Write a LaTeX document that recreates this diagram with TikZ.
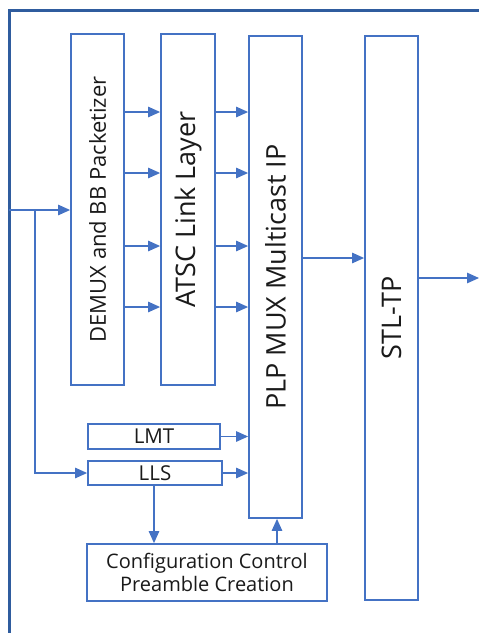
\documentclass[tikz,border=0pt]{standalone}
\usepackage{fontspec}
\setmainfont{Open Sans}
\usetikzlibrary{arrows.meta}
\definecolor{lblue}{HTML}{4472C4}
\definecolor{fblue}{HTML}{2F5C9E}
\definecolor{txt}{HTML}{1A1A1A}
\tikzset{
  box/.style={draw=lblue, line width=1.8pt, fill=white, inner sep=0pt, text=txt, align=center},
  arr/.style={draw=lblue, line width=1.2pt, -{Triangle[length=12pt,width=10.5pt]}},
  frameline/.style={draw=fblue, line width=3pt},
  big/.style={font=\fontsize{27}{31}\selectfont},
  mid/.style={font=\fontsize{22}{26}\selectfont},
  small/.style={font=\fontsize{20.5}{24}\selectfont},
  conf/.style={font=\fontsize{20}{22.5}\selectfont},
}
\begin{document}
\begin{tikzpicture}[x=1pt,y=-1pt]
\useasboundingbox[fill=white] (0,0) rectangle (479,633);
\draw[frameline] (9,633) -- (9,10) -- (479,10);

\node[box, minimum width=53pt, minimum height=351pt, mid] (demux) at (97.5,209.5) {\rotatebox{90}{DEMUX and BB Packetizer}};
\node[box, minimum width=54pt, minimum height=351pt, big] (atsc) at (188,209.5) {\rotatebox{90}{ATSC Link Layer}};
\node[box, minimum width=53pt, minimum height=482pt, big] (plp) at (275.5,277) {\rotatebox{90}{PLP MUX Multicast IP}};
\node[box, minimum width=53pt, minimum height=564pt, big] (stl) at (391.5,318) {\rotatebox{90}{STL-TP}};
\node[box, minimum width=132pt, minimum height=25pt, small] (lmt) at (154,436.5) {LMT};
\node[box, minimum width=134pt, minimum height=24pt, small] (lls) at (155,473) {LLS};
\node[box, minimum width=240pt, minimum height=57pt, conf] (conf) at (207,572.5) {Configuration Control\\Preamble Creation};

\coordinate (in) at (9,210);
\coordinate (br) at (35,210);
\coordinate (out) at (479,278);

\draw[arr] (in) -- (demux.west |- in);
\draw[arr] (br) -- (br |- lls.west) -- (lls.west);

\foreach \yy in {112,173,246,307} {
  \draw[arr] (demux.east |- 0,\yy) -- (atsc.west |- 0,\yy);
  \draw[arr] (atsc.east |- 0,\yy) -- (plp.west |- 0,\yy);
}
\draw[arr] (plp.east |- 0,258) -- (stl.west |- 0,258);
\draw[arr] (stl.east |- out) -- (out);
\draw[arr] (lmt.east) -- (plp.west |- lmt.east);
\draw[arr] (lls.east) -- (plp.west |- lls.east);
\draw[arr] (lls.south -| 154,0) -- (conf.north -| 154,0);
\draw[arr] (conf.north -| 277,0) -- (plp.south -| 277,0);
\end{tikzpicture}
\end{document}
